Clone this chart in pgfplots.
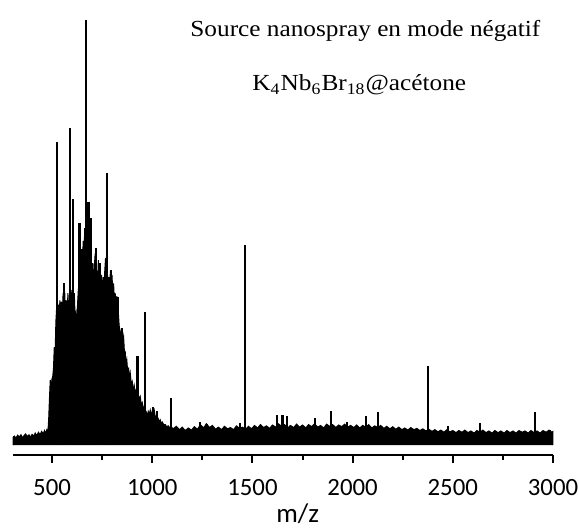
\documentclass[border=0pt]{standalone}
\usepackage{graphicx}
\usepackage{pgfplots}
\pgfplotsset{compat=1.18}
\usepackage{fontspec}
\setmainfont{Liberation Serif}
\newfontfamily\calibri{Carlito}
\begin{document}
\begin{tikzpicture}
\useasboundingbox (-6.5pt,-37pt) rectangle (283pt,227.5pt);
\begin{axis}[at={(0,0)}, anchor=south west, scale only axis,
  width=270pt, height=227.5pt,
  xmin=305, xmax=3000, ymin=-2.35, ymax=104.7,
  axis x line=bottom, axis y line=none,
  x axis line style={-, line width=1pt},
  xtick={500,1000,...,3000}, minor xtick={750,1250,...,2750},
  tick align=outside, major tick length=4pt, minor tick length=2.5pt,
  every tick/.style={black, line width=1pt},
  xticklabel style={font=\calibri\fontsize{12.4}{14}\selectfont, yshift=-4.5pt},
  /pgf/number format/assume math mode=true,
  /pgf/number format/1000 sep={},
  clip=false]
% envelope of the spectrum (noise band and dense cluster)
\addplot[fill=black, draw=black, line width=0.5pt] coordinates {
(305,0) (305,1.8) (312,2.1) (320,1.6) (328,2.3) (336,1.9) (345,2.4) (352,1.7) (360,2.2)
(368,2.6) (376,2.0) (385,2.4) (393,1.8) (400,2.5) (408,2.1) (416,2.8) (424,2.2) (432,3.0)
(440,2.4) (448,3.2) (456,2.6) (462,3.4) (468,2.8) (474,3.6) (479,2.9)
(483,6) (487,11) (491,15.3) (495,12) (499,15.5) (503,16) (507,18) (511,23) (515,21) (519,29)
(523,32.5) (527,28) (531,33) (535,30) (539,34) (543,31) (547,33.7) (551,30) (555,35.7) (559,32)
(563,36) (567,31) (571,34) (575,30) (579,35.7) (583,32) (587,33) (591,30) (595,36.5) (599,33)
(603,35) (607,31) (611,35.7) (615,30) (619,31) (623,27) (627,33) (631,36.5) (635,38) (639,43.5)
(643,38) (647,42) (651,40) (655,48) (659,44) (663,51) (667,47) (671,56) (675,52) (679,57)
(683,51) (687,50.6) (691,44) (695,45) (699,40) (703,42.8) (707,37) (711,42) (715,45) (719,40)
(723,40.5) (727,38) (731,43.5) (735,39) (739,42) (743,37) (747,40) (751,35) (755,39.5) (759,37)
(763,41) (767,44) (771,38) (775,42) (779,37) (783,39.5) (787,36) (791,41) (795,37) (799,40)
(803,36) (807,38) (811,34) (815,35.7) (819,32) (823,35) (827,33) (831,31) (835,28) (839,27)
(843,25) (848,27.5) (852,24) (857,25.5) (861,22) (865,22) (869,19) (873,20) (877,17.5) (882,18)
(886,16) (890,17) (895,14.5) (900,15) (905,12.7) (910,14) (915,12.2) (920,13) (925,11.5) (930,12)
(935,10.8) (940,11.4) (945,9.5) (950,10) (955,8.8) (960,9) (965,7.5) (970,7.8) (975,6.8) (980,7.9)
(985,7.2) (990,8.2) (995,6.8) (1000,8) (1005,7.5) (1010,8.2) (1015,6.5) (1020,6.8) (1025,5.8) (1030,6.2)
(1035,5.4) (1040,5.9) (1045,5.0) (1050,5.4) (1057,4.8) (1065,4.8) (1072,4.3) (1080,4.5) (1088,4.0) (1096,4.2)
(1104,3.8) (1120,4.4) (1136,3.6) (1150,4.2) (1164,3.4) (1180,4.0) (1196,3.5) (1210,4.3) (1226,3.7)
(1240,4.8) (1256,4.0) (1270,5.0) (1286,4.1) (1300,4.6) (1316,3.7) (1330,4.2) (1346,3.6) (1360,4.4)
(1376,3.8) (1390,4.1) (1406,3.6) (1420,4.5) (1436,3.9) (1450,4.2) (1466,3.7) (1480,4.4) (1496,3.8)
(1510,4.6) (1526,4.0) (1540,4.8) (1556,4.1) (1570,4.5) (1586,3.9) (1600,4.7) (1616,4.2) (1630,5.0)
(1646,4.3) (1660,4.8) (1676,4.0) (1690,4.6) (1706,4.1) (1720,4.9) (1736,4.2) (1750,4.7) (1766,4.0)
(1780,4.8) (1796,4.3) (1810,5.0) (1826,4.2) (1840,4.6) (1856,4.0) (1870,4.9) (1886,4.4) (1900,4.8)
(1916,4.1) (1930,4.7) (1946,4.3) (1960,4.9) (1976,4.2) (1990,4.6)
(2006,4.1) (2020,4.7) (2036,4.0) (2050,4.6) (2066,4.2) (2080,4.8) (2096,4.0) (2110,4.5) (2126,4.1)
(2140,4.6) (2156,3.9) (2170,4.4) (2186,3.8) (2200,4.3) (2216,3.7) (2230,4.2) (2246,3.6) (2260,4.0)
(2276,3.5) (2290,4.1) (2306,3.6) (2320,3.9) (2336,3.4) (2350,3.8) (2366,3.3) (2380,3.7) (2396,3.2)
(2410,3.6) (2426,3.1) (2440,3.5) (2456,3.0) (2470,3.6) (2486,3.1) (2500,3.4) (2516,2.9) (2530,3.4)
(2546,3.0) (2560,3.5) (2576,2.9) (2590,3.3) (2606,2.8) (2620,3.4) (2636,3.0) (2650,3.5) (2666,2.9)
(2680,3.3) (2696,2.8) (2710,3.4) (2726,2.9) (2740,3.3) (2756,2.8) (2770,3.4) (2786,2.9) (2800,3.3)
(2816,2.8) (2830,3.4) (2846,3.0) (2860,3.3) (2876,2.8) (2890,3.4) (2906,2.9) (2920,3.3) (2936,2.8)
(2950,3.4) (2966,3.0) (2980,3.5) (2994,3.0) (3000,3.2) (3000,0)
};
% individual peaks
\addplot[ycomb, black, line width=1.2pt, mark=none] coordinates {
(526,71.3) (560,38) (590,74.6) (603,57.9) (636,52.2) (650,46) (670,100) (681,57.2) (693,53.4)
(718,46.4) (740,42.8) (775,64) (794,41.2) (828,34.8) (848,27.5) (927,21) (963,31.3)
(1005,9) (1023,8) (1093,11) (1238,5.4) (1273,5) (1438,5.2) (1463,47) (1623,7) (1650,7)
(1673,6.8) (1812,6.3) (1893,8) (1972,5.4) (2067,6.8) (2127,7.8) (2377,18.6) (2477,4.5)
(2637,5.2) (2910,7.8) (2985,3.5)
};
\end{axis}
\node[anchor=base west, inner sep=0pt] at (88.5pt,209pt)
  {\scalebox{1.1}[1]{\fontsize{11.5}{13}\selectfont Source nanospray en mode négatif}};
\node[anchor=base west, inner sep=0pt] at (119.5pt,182pt)
  {\scalebox{1.1}[1]{\fontsize{11.5}{13}\selectfont K\textsubscript{4}Nb\textsubscript{6}Br\textsubscript{18}@acétone}};
\node[anchor=base west, inner sep=0pt] at (131.5pt,-34pt)
  {\calibri\fontsize{13.5}{15}\selectfont m/z};
\end{tikzpicture}
\end{document}
